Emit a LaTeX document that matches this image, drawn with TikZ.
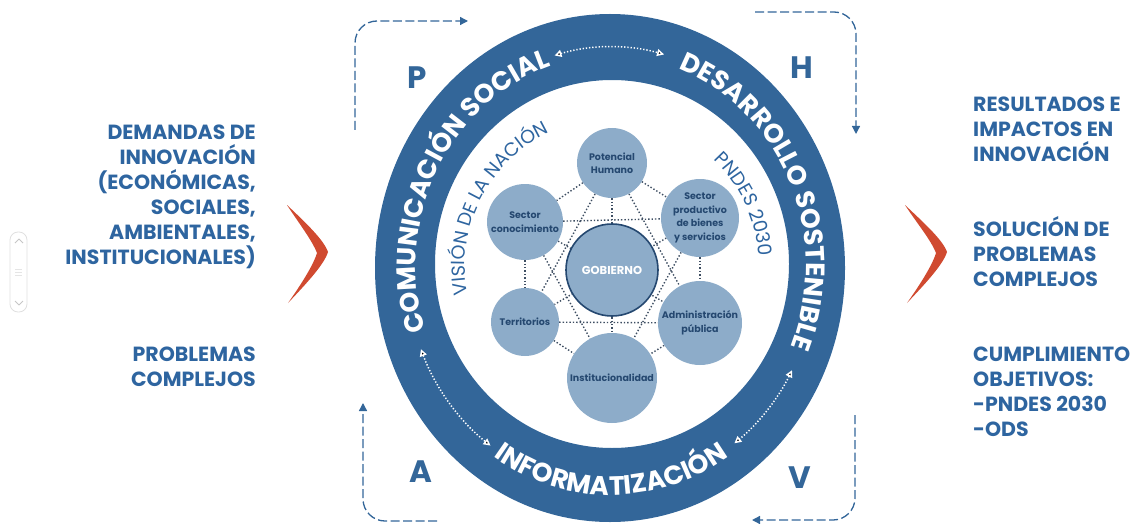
\documentclass[tikz,border=0pt]{standalone}
\usepackage{fontspec}
\setmainfont{Poppins}
\usepackage{tikz}
\usetikzlibrary{arrows.meta, shapes, positioning, decorations.text, backgrounds}
\usepackage{xcolor}
\definecolor{ringblue}{RGB}{51,102,153}
\definecolor{textblue}{RGB}{46,101,160}
\definecolor{lightblue}{RGB}{141,172,201}
\definecolor{darkblue}{RGB}{37,72,112}
\definecolor{linkgray}{RGB}{62,78,98}
\definecolor{chevronred}{RGB}{208,74,48}
\tikzset{bigbluenode/.style={circle, fill=lightblue, inner sep=0pt, align=center, text=darkblue, font=\fontsize{9.5}{13.5}\selectfont\bfseries},sidetext/.style={inner sep=0pt, text=textblue, font=\fontsize{20.5}{24.9}\selectfont\bfseries}}
\tikzset{cycleletter/.style={text=ringblue, font=\fontsize{31}{31}\selectfont\bfseries}}

\begin{document}
\begin{tikzpicture}[
        line join=round,
        cyclearrow/.style={draw=ringblue, line width=1.3pt, dash pattern=on 9pt off 3.5pt, rounded corners=22pt, -{Triangle[width=8pt, length=8pt]}},
        ringarrow/.style={draw=white, line width=1.5pt, dash pattern=on 1.3pt off 1.9pt, {Triangle[width=7pt, length=7pt]}-{Triangle[width=7pt, length=7pt]}},
        linkline/.style={draw=linkgray, line width=1.4pt, dash pattern=on 1.4pt off 2pt}
    ]
        \useasboundingbox (0pt, 0pt) rectangle (1143pt, -524pt);
        % Ring
        \fill[ringblue, even odd rule] (610pt, -268pt) ellipse [x radius=235pt, y radius=254pt] (612pt, -264pt) ellipse [x radius=177pt, y radius=184pt];
        \path[decorate, decoration={text along path, text color=white, text align=center, text={|\fontsize{26.5}{26.5}\selectfont\bfseries|COMUNICACIÓN SOCIAL}}] (611pt, -266pt) ++(212:195pt and 210pt) arc [start angle=212, end angle=93, x radius=195pt, y radius=210pt];
        \path[decorate, decoration={text along path, text color=white, text align=center, text={|\fontsize{26.5}{26.5}\selectfont\bfseries|DESARROLLO SOSTENIBLE}}] (611pt, -266pt) ++(86:195pt and 210pt) arc [start angle=86, end angle=-38, x radius=195pt, y radius=210pt];
        \path[decorate, decoration={text along path, text color=white, text align=center, text={|\fontsize{26.5}{26.5}\selectfont\bfseries|INFORMATIZACIÓN}}] (611pt, -266pt) ++(218:212pt and 229pt) arc [start angle=218, end angle=322, x radius=212pt, y radius=229pt];
        % Arrows inside the ring
        \draw[ringarrow] (611pt, -266pt) ++(106:205pt and 219pt) arc [start angle=106, end angle=75, x radius=205pt, y radius=219pt];
        \draw[ringarrow] (611pt, -266pt) ++(202:205pt and 222pt) arc [start angle=202, end angle=234, x radius=205pt, y radius=222pt];
        \draw[ringarrow] (611pt, -266pt) ++(-28:205pt and 222pt) arc [start angle=-28, end angle=-53, x radius=205pt, y radius=222pt];
        % Inner texts
        \path[decorate, decoration={text along path, text color=textblue, text align=center, text={|\fontsize{19}{19}\selectfont|VISIÓN DE LA NACIÓN}}] (612pt, -266pt) ++(206:147pt) arc [start angle=206, end angle=100, radius=147pt];
        \path[decorate, decoration={text along path, text color=textblue, text align=center, text={|\fontsize{19}{19}\selectfont|PNDES 2030}}] (612pt, -266pt) ++(60:147pt) arc [start angle=60, end angle=-10, radius=147pt];
        % Circles
        \node[bigbluenode, minimum size=70pt] (potencial) at (612pt, -163pt) {Potencial\\Humano};
        \node[bigbluenode, minimum size=76pt] (conocimiento) at (525pt, -222pt) {Sector\\conocimiento};
        \node[bigbluenode, minimum size=78pt] (productivo) at (700pt, -218pt) {Sector\\productivo\\de bienes\\y servicios};
        \node[bigbluenode, minimum size=68pt] (territorios) at (525pt, -322pt) {Territorios};
        \node[bigbluenode, minimum size=84pt] (administracion) at (700pt, -323pt) {Administración\\pública};
        \node[bigbluenode, minimum size=90pt] (institucionalidad) at (612pt, -378pt) {Institucionalidad};
        \node[bigbluenode, minimum size=92pt, draw=darkblue, line width=1.6pt, text=white, font=\fontsize{11.5}{12}\selectfont\bfseries] (gobierno) at (612pt, -270pt) {GOBIERNO};
        % Links
        \begin{scope}[on background layer]
            \foreach \a/\b in {
                potencial/conocimiento,
                potencial/productivo,
                potencial/territorios,
                potencial/administracion,
                potencial/institucionalidad,
                conocimiento/productivo,
                conocimiento/territorios,
                conocimiento/administracion,
                conocimiento/institucionalidad,
                productivo/territorios,
                productivo/administracion,
                productivo/institucionalidad,
                territorios/administracion,
                territorios/institucionalidad,
                administracion/institucionalidad} {
                \draw[linkline] (\a) -- (\b);
            }
        \end{scope}
        % Cycle
        \draw[cyclearrow] (355pt, -130pt) -- (355pt, -21pt) -- (468pt, -21pt);
        \draw[cyclearrow] (755pt, -12pt) -- (856pt, -12pt) -- (856pt, -134pt);
        \draw[cyclearrow] (855pt, -415pt) -- (855pt, -520pt) -- (752pt, -520pt);
        \draw[cyclearrow] (437pt, -521pt) -- (363pt, -521pt) -- (363pt, -403pt);
        \node[cycleletter] (planear) at (417pt, -78pt) {P};
        \node[cycleletter] (hacer) at (802pt, -68pt) {H};
        \node[cycleletter] (actuar) at (421pt, -472pt) {A};
        \node[cycleletter] (verificar) at (800pt, -478pt) {V};
        % Chevrons
        \fill[chevronred] (287pt, -205pt) .. controls (305pt, -222pt) and (324pt, -240pt) .. (328pt, -252pt) .. controls (324pt, -265pt) and (305pt, -285pt) .. (288pt, -303pt) .. controls (300pt, -286pt) and (313pt, -266pt) .. (317pt, -253pt) .. controls (312pt, -240pt) and (298pt, -222pt) .. cycle;
        \fill[chevronred] (905pt, -205pt) .. controls (923pt, -222pt) and (943pt, -240pt) .. (947pt, -252pt) .. controls (943pt, -265pt) and (924pt, -285pt) .. (907pt, -303pt) .. controls (919pt, -286pt) and (932pt, -266pt) .. (936pt, -253pt) .. controls (931pt, -240pt) and (916pt, -222pt) .. cycle;
        % Texts
        \node[sidetext, anchor=north east, align=right] (demandas) at (256pt, -125pt) {DEMANDAS DE\\INNOVACIÓN\\(ECONÓMICAS,\\SOCIALES,\\AMBIENTALES,\\INSTITUCIONALES)};
        \node[sidetext, anchor=north east, align=right] (problemas) at (256pt, -347pt) {PROBLEMAS\\COMPLEJOS};
        \node[sidetext, anchor=north west, align=left] (resultados) at (973pt, -97pt) {RESULTADOS E\\IMPACTOS EN\\INNOVACIÓN};
        \node[sidetext, anchor=north west, align=left] (solucion) at (973pt, -216pt) {SOLUCIÓN DE\\PROBLEMAS\\COMPLEJOS};
        \node[sidetext, anchor=north west, align=left] (cumplimiento) at (973pt, -347pt) {CUMPLIMIENTO\\OBJETIVOS:\\-PNDES 2030\\-ODS};
        % Scroll
        \node[draw=gray!25, line width=0.8pt, rounded corners=8pt, minimum width=17pt, minimum height=80pt] (scroll) at (18.5pt, -272pt) {};
        \draw[gray!45, line width=0.8pt] (15pt, -243pt) -- (19pt, -239pt) -- (23pt, -243pt);
        \draw[gray!20, line width=0.6pt] (15pt, -269pt) -- (22pt, -269pt) (15pt, -272pt) -- (22pt, -272pt) (15pt, -275pt) -- (22pt, -275pt);
        \draw[gray!45, line width=0.8pt] (15pt, -301pt) -- (19pt, -305pt) -- (23pt, -301pt);
    \end{tikzpicture}
\end{document}
